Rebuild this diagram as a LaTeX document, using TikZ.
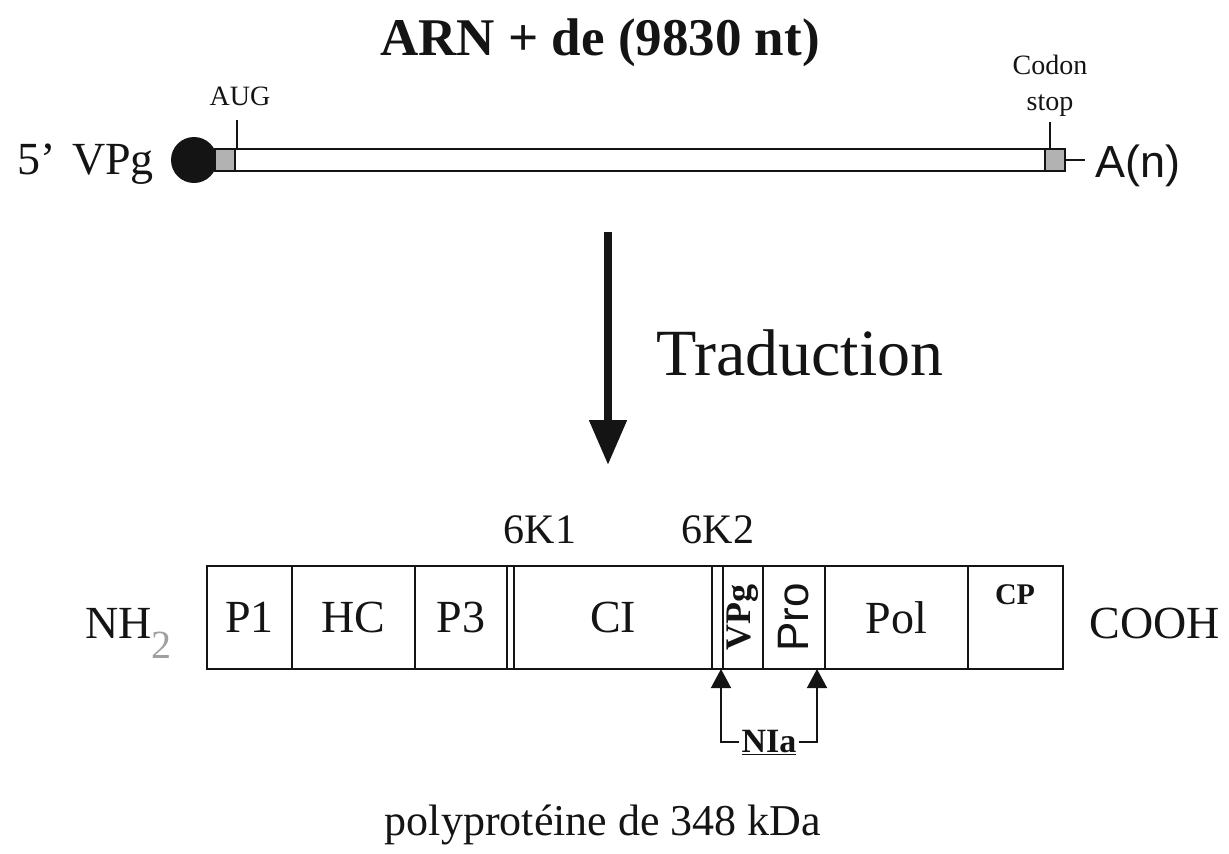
\documentclass[tikz,border=0pt]{standalone}
\usepackage{fontspec}
\setmainfont{Liberation Serif}
\newfontfamily\arialfont{Liberation Sans}
\usetikzlibrary{arrows.meta,positioning}
\definecolor{inkBlack}{RGB}{20, 20, 20}
\definecolor{inkGrey}{RGB}{178, 178, 178}
\definecolor{inkSub}{RGB}{160, 160, 160}

\tikzset{
  seg/.style={draw=inkBlack, line width=1.6pt, minimum height=103pt, inner sep=0pt, outer sep=0pt,
              font=\fontsize{46pt}{50pt}\selectfont},
  bigtxt/.style={inner sep=0pt, font=\fontsize{46pt}{50pt}\selectfont},
  smalltxt/.style={inner sep=0pt, align=center, font=\fontsize{28pt}{36pt}\selectfont},
  cut/.style={line width=1.6pt, -{Triangle[width=20pt,length=19pt]}},
}

\begin{document}
\begin{tikzpicture}[x=1pt, y=-1pt, color=inkBlack]
\useasboundingbox[fill=white] (0,0) rectangle (1229,854);

% ARN
\node[inner sep=0pt, anchor=base, font=\fontsize{53pt}{58pt}\selectfont\bfseries] (title) at (600,55) {ARN + de (9830 nt)};
\node[bigtxt, anchor=base] (five) at (37,174) {5’};
\node[bigtxt, anchor=base] (vpgcap) at (113,174) {VPg};
\node[circle, fill=inkBlack, minimum size=46pt, inner sep=0pt] (cap) at (194,160) {};
\node[draw, line width=1.6pt, anchor=west, minimum width=850pt, minimum height=22pt, inner sep=0pt, outer sep=0pt] (rna) at (215,160) {};
\node[draw, line width=1.2pt, fill=inkGrey, anchor=west, minimum width=20pt, minimum height=22pt, inner sep=0pt, outer sep=0pt] (aug) at (215,160) {};
\node[draw, line width=1.2pt, fill=inkGrey, anchor=east, minimum width=20pt, minimum height=22pt, inner sep=0pt, outer sep=0pt] (stop) at (1065,160) {};
\node[smalltxt] (auglbl) at (240,96) {AUG};
\node[smalltxt] (stoplbl) at (1050,86) {Codon\\stop};
\node[inner sep=0pt, anchor=base west, font=\fontsize{45pt}{50pt}\selectfont\arialfont] (polya) at (1095,177) {A(n)};
\coordinate (augtick) at (237,120);
\coordinate (stoptick) at (1050,122);
\draw[line width=1.6pt] (augtick) -- (augtick |- rna.north);
\draw[line width=1.6pt] (stoptick) -- (stoptick |- rna.north);
\draw[line width=1.6pt, shorten >=10pt] (stop.east) -- (stop.east -| polya.west);

% traduction
\coordinate (arrtop) at (608,232);
\coordinate (arrtip) at (608,465);
\draw[line width=8pt, -{Triangle[width=36pt,length=45pt]}] (arrtop) -- (arrtip);
\node[inner sep=0pt, font=\fontsize{66pt}{70pt}\selectfont] (trad) at (800,353) {Traduction};

% polyproteine
\node[seg, anchor=north west, minimum width=85pt] (p1) at (207,566) {P1};
\node[seg, minimum width=123pt, right=0pt of p1] (hc) {HC};
\node[seg, minimum width=92pt, right=0pt of hc] (p3) {P3};
\node[seg, minimum width=7pt, right=0pt of p3] (k1) {};
\node[seg, minimum width=198pt, right=0pt of k1] (ci) {CI};
\node[seg, minimum width=11pt, right=0pt of ci] (k2) {};
\node[seg, minimum width=40pt, right=0pt of k2] (vpg) {\rotatebox{90}{\fontsize{36pt}{40pt}\selectfont\bfseries VPg}};
\node[seg, minimum width=62pt, right=0pt of vpg] (pro) {\rotatebox{90}{\fontsize{44pt}{48pt}\selectfont\arialfont Pro}};
\node[seg, minimum width=143pt, right=0pt of pro] (pol) {Pol};
\node[seg, minimum width=95pt, right=0pt of pol] (cp) {};
\node[inner sep=0pt, font=\fontsize{30pt}{34pt}\selectfont\bfseries] (cplbl) at (1015,595) {CP};

\node[inner sep=0pt, font=\fontsize{42pt}{46pt}\selectfont] (k1lbl) at (540,530) {6K1};
\node[inner sep=0pt, font=\fontsize{42pt}{46pt}\selectfont] (k2lbl) at (718,530) {6K2};
\node[bigtxt, anchor=base west] (nh) at (85,638) {NH\raisebox{-20pt}{\fontsize{40pt}{40pt}\selectfont\color{inkSub}2}};
\node[bigtxt, anchor=base] (cooh) at (1155,638) {COOH};

% sites NIa
\node[inner sep=2pt, anchor=base, font=\fontsize{34pt}{38pt}\selectfont\bfseries] (nia) at (769,752) {\underline{NIa}};
\coordinate (cutA) at (721,669);
\coordinate (cutB) at (817,669);
\draw[cut] (nia.west) -| (cutA);
\draw[cut] (nia.east) -| (cutB);

\node[inner sep=0pt, font=\fontsize{44pt}{48pt}\selectfont] (size) at (603,825) {polyprotéine de 348 kDa};
\end{tikzpicture}
\end{document}
